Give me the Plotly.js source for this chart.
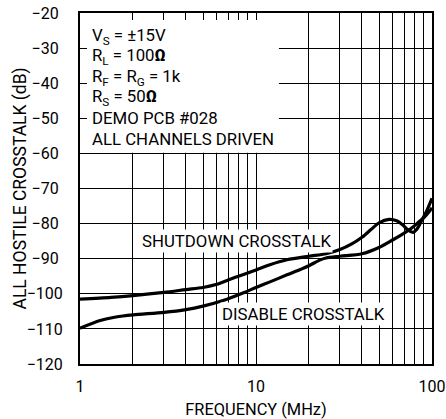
<!DOCTYPE html>
<html>
<head>
<meta charset="utf-8">
<script src="https://cdn.plot.ly/plotly-3.0.1.min.js"></script>
<style>
  html, body { margin: 0; padding: 0; background: #fff; }
  #chart { width: 446px; height: 419px; }
</style>
</head>
<body>
<div id="chart"></div>
<script>
// ---- data ----
const shutdownFreq = [1, 1.5, 2, 3, 4, 5, 6, 7, 8.5, 10, 12, 15, 20, 25, 30, 35, 40, 45, 50, 57, 63, 68, 73, 78, 82, 88, 94, 100];
const shutdownDb   = [-101.5, -101.0, -100.5, -99.6, -98.8, -98.2, -97.3, -96.0, -94.5, -93.2, -91.7, -90.3, -89.3, -88.6, -87.4, -85.8, -83.9, -81.7, -79.8, -78.8, -79.2, -80.3, -81.8, -82.5, -81.6, -78.8, -76.0, -72.8];

const disableFreq = [1, 1.3, 1.6, 2, 3, 4, 5, 6.5, 8.5, 10, 12, 15, 18, 20, 23, 25, 30, 40, 50, 60, 67, 75, 80, 85, 90, 95, 100];
const disableDb   = [-109.8, -107.6, -106.6, -106.0, -105.3, -104.5, -103.5, -101.9, -99.7, -98.2, -96.6, -94.6, -93.0, -92.0, -90.4, -89.8, -89.3, -88.6, -86.8, -84.6, -83.2, -81.6, -80.5, -79.3, -78.3, -77.0, -75.5];

const xTickVals = [1, 2, 3, 4, 5, 6, 7, 8, 9, 10, 20, 30, 40, 50, 60, 70, 80, 90, 100];
const xTickText = ["1", "", "", "", "", "", "", "", "", "10", "", "", "", "", "", "", "", "", "100"];
const yTickVals = [-120, -110, -100, -90, -80, -70, -60, -50, -40, -30, -20];
const yTickText = ["−120", "−110", "−100", "−90", "−80", "−70", "−60", "−50", "−40", "−30", "−20"];

const conditionLines = [
  "V<sub>S</sub> = ±15V",
  "R<sub>L</sub> = 100<b>Ω</b>",
  "R<sub>F</sub> = R<sub>G</sub> = 1k",
  "R<sub>S</sub> = 50<b>Ω</b>",
  "DEMO PCB #028",
  "ALL CHANNELS DRIVEN"
];
const curveLabels = ["SHUTDOWN CROSSTALK", "DISABLE CROSSTALK"];
const xTitle = "FREQUENCY (MHz)";
const yTitle = "ALL HOSTILE CROSSTALK (dB)";

// ---- chart ----
const FONT = "Roboto, Liberation Sans, sans-serif";
const W = 446, H = 419;
const M = {l: 80, r: 14, t: 13, b: 55};
const PW = W - M.l - M.r, PH = H - M.t - M.b;
const px2x = p => (p - M.l) / PW;
const px2y = p => (H - M.b - p) / PH;

// tick labels in the reference are centred under each other: pad the short ones
const yTickShown = yTickText.map(t => t.length < 4 ? t + "\u2005" : t);

const lineStyle = {color: "#000", width: 3.2, shape: "spline", smoothing: 0.8};
const traces = [
  {x: shutdownFreq, y: shutdownDb, mode: "lines", line: lineStyle, hoverinfo: "skip"},
  {x: disableFreq, y: disableDb, mode: "lines", line: lineStyle, hoverinfo: "skip"}
];

const annotations = [];
const rowY = [36, 56.5, 77, 97.5, 118, 138.5];
conditionLines.forEach((t, i) => {
  annotations.push({
    text: t, xref: "paper", yref: "paper", x: px2x(90), y: px2y(rowY[i]),
    xanchor: "left", yanchor: "middle", showarrow: false,
    font: {family: FONT, size: 16.8, color: "#000"}
  });
});
annotations.push({
  text: curveLabels[0], xref: "paper", yref: "paper", x: px2x(236), y: px2y(241),
  xanchor: "center", yanchor: "middle", showarrow: false, bgcolor: "#fff", borderpad: 1,
  font: {family: FONT, size: 16.8, color: "#000"}
});
annotations.push({
  text: curveLabels[1], xref: "paper", yref: "paper", x: px2x(303.5), y: px2y(314),
  xanchor: "center", yanchor: "middle", showarrow: false, bgcolor: "#fff", borderpad: 1,
  font: {family: FONT, size: 16.8, color: "#000"}
});
// y-axis title, placed as in the reference
annotations.push({
  text: yTitle, xref: "paper", yref: "paper", x: px2x(20), y: 0.5,
  xanchor: "center", yanchor: "middle", textangle: -90, showarrow: false,
  font: {family: FONT, size: 17.5, color: "#000"}
});

const layout = {
  width: W, height: H,
  margin: M,
  paper_bgcolor: "#fff", plot_bgcolor: "#fff",
  showlegend: false,
  xaxis: {
    type: "log", range: [0, 2],
    tickmode: "array", tickvals: xTickVals, ticktext: xTickText,
    ticks: "inside", ticklen: 7, tickwidth: 1, tickcolor: "#000",
    showgrid: true, gridcolor: "#000", gridwidth: 1,
    showline: true, linecolor: "#000", linewidth: 2, mirror: "ticks",
    zeroline: false, fixedrange: true,
    tickfont: {family: FONT, size: 16, color: "#000"},
    ticklabelstandoff: 7, ticklabeloverflow: "allow",
    title: {text: xTitle, font: {family: FONT, size: 16.4, color: "#000"}, standoff: 8}
  },
  yaxis: {
    range: [-120, -20],
    tickmode: "array", tickvals: yTickVals, ticktext: yTickShown,
    ticks: "inside", ticklen: 7, tickwidth: 1, tickcolor: "#000",
    showgrid: true, gridcolor: "#000", gridwidth: 1,
    showline: true, linecolor: "#000", linewidth: 2, mirror: "ticks",
    zeroline: false, fixedrange: true,
    tickfont: {family: FONT, size: 16, color: "#000"},
    ticklabelstandoff: 12, ticklabeloverflow: "allow"
  },
  shapes: [{
    type: "rect", xref: "x", yref: "y", layer: "between",
    x0: 1, x1: 13.5, y0: -59.8, y1: -20,
    fillcolor: "#fff", line: {width: 0}
  }],
  annotations: annotations
};

Plotly.newPlot("chart", traces, layout, {staticPlot: true, displayModeBar: false});
</script>
</body>
</html>
